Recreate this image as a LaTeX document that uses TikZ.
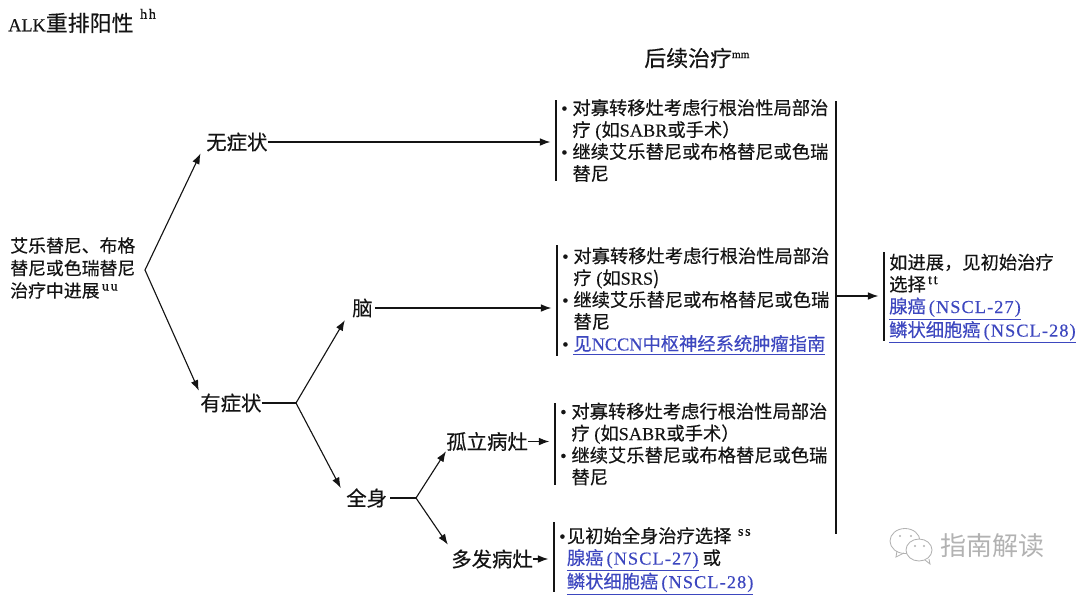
\documentclass[tikz,border=0pt]{standalone}
\usepackage{fontspec}
\setmainfont[FakeBold=0.35]{Noto Sans CJK SC}
\newfontfamily\markf{Noto Sans CJK SC}
\newfontfamily\latf[FakeBold=0.25]{Liberation Serif}
\newfontfamily\latsp[LetterSpace=6,FakeBold=0.25]{Liberation Serif}
\newfontfamily\supf[LetterSpace=12,FakeBold=0.6]{Liberation Serif}
\newfontfamily\supm[FakeBold=0.8]{Liberation Serif}
\usetikzlibrary{positioning,arrows.meta,calc}
\definecolor{colk}{rgb}{0.08, 0.08, 0.08}
\definecolor{coll}{rgb}{0.24, 0.28, 0.75}
\definecolor{colw}{rgb}{0.70, 0.70, 0.70}
\newcommand{\lat}[1]{{\latf #1}}
\newcommand{\supr}[1]{\raisebox{.7ex}{\fontsize{10}{10}\selectfont\supf\,#1}}
\newcommand{\blt}{\makebox[8pt][l]{\latf\textbullet}}
\newcommand{\ind}{\hspace*{8pt}}
\newcommand{\lnk}[1]{\textcolor{coll}{\underline{#1}}}
\newcommand{\nsa}{腺癌{\latsp\,(NSCL-27)}}
\newcommand{\nsb}{鳞状细胞癌{\latsp\,(NSCL-28)}}
\tikzset{
  body/.style={anchor=west,align=left,inner ysep=0pt,inner xsep=3.5pt,text=colk,font=\fontsize{13}{15.6}\selectfont},
  lab/.style={anchor=west,inner sep=0pt,text=colk,font=\fontsize{14.5}{17}\selectfont},
  head/.style={anchor=west,inner sep=0pt,text=colk,font=\fontsize{15.6}{18}\selectfont},
  con/.style={colk,line width=0.8pt},
  arr/.style={con,-{Latex[length=7.5pt,width=5.5pt]},shorten >=#1},
  arr/.default=4pt
}
\begin{document}
\begin{tikzpicture}[x=0.025cm,y=-0.025cm]
    \useasboundingbox (0,0) rectangle (1080,595);
    \node[head] (alk) at (8,21) {\lat{\fontsize{13}{18}\selectfont ALK}重排阳性\hspace{3pt}\raisebox{.35ex}{\supr{hh}}};
    \node[head] (then) at (644,58) {后续治疗\raisebox{.7ex}{\fontsize{8}{8}\selectfont\supm mm}};
    \node[body,inner xsep=0pt,font=\fontsize{12.7}{16}\selectfont] (prog) at (10,268) {艾乐替尼、布格\\替尼或色瑞替尼\\治疗中进展\supr{uu}};

    \coordinate (splita) at (145,270);
    \coordinate (splitb) at (296,403);
    \coordinate (splitc) at (416,498);
    \coordinate (mainbar) at (836,296);

    \node[lab] (nosym) at (206,142) {无症状};
    \node[lab] (sym) at (200,403) {有症状};
    \node[lab] (brain) at (352,308) {脑};
    \node[lab] (whole) at (346,498) {全身};
    \node[lab] (single) at (446,441.5) {孤立病灶};
    \node[lab] (multi) at (451,559) {多发病灶};

    \node[body] (tra) at (556,140.5) {\blt 对寡转移灶考虑行根治性局部治\\\ind 疗\lat{ (}如\lat{SABR}或手术）\\\blt 继续艾乐替尼或布格替尼或色瑞\\\ind 替尼};
    \node[body] (trb) at (557,301) {\blt 对寡转移灶考虑行根治性局部治\\\ind 疗\lat{ (}如\lat{SRS})\\\blt 继续艾乐替尼或布格替尼或色瑞\\\ind 替尼\\\blt \lnk{见\lat{NCCN}中枢神经系统肿瘤指南}};
    \node[body] (trc) at (555,444) {\blt 对寡转移灶考虑行根治性局部治\\\ind 疗\lat{ (}如\lat{SABR}或手术）\\\blt 继续艾乐替尼或布格替尼或色瑞\\\ind 替尼};
    \node[body] (trd) at (554,561) {\makebox[5.5pt][l]{\latf\textbullet}见初始全身治疗选择\hspace{3pt}\supr{ss}\\\hspace*{5.5pt}\lnk{\nsa} 或\\\hspace*{5.5pt}\lnk{\nsb}};
    \node[body] (next) at (884,298.5) {如进展，见初始治疗\\选择\supr{tt}\\\lnk{\nsa}\\\lnk{\nsb}};

    \draw[arr=9pt] (splita) -- (nosym.west);
    \draw[arr=2pt] (splita) -- (sym.north west);
    \draw[con] (sym.east) -- (splitb);
    \draw[arr=10pt] (splitb) -- (brain.west);
    \draw[arr=8pt] (splitb) -- (whole.west);
    \draw[con] (whole.east)+(3,0) -- (splitc);
    \draw[arr=0pt] (splitc) -- (single.south west);
    \draw[arr=4pt] (splitc) -- (multi.north west);

    \draw[arr] (nosym.east) -- (nosym.east -| tra.west);
    \draw[arr] (brain.east)+(2,0) -- (brain.east -| trb.west);
    \draw[arr] (single.east) -- (single.east -| trc.west);
    \draw[arr] (multi.east) -- (multi.east -| trd.west);

    \foreach \n/\a/\b in {tra/40.5/40.5,trb/56/55,trc/41/41,trd/39/31,next/46.5/42.5}
      \draw[con] (\n.west)+(0,-\a) -- +(0,\b);
    \draw[con] (836,101) -- (836,534);
    \draw[arr] (mainbar) -- (mainbar -| next.west);

    % watermark
    \draw[colw,line width=0.6pt] (905,541) ellipse (15 and 12.5);
    \draw[colw,line width=0.6pt] (897,551) -- (896,557) -- (904,553);
    \draw[colw,line width=0.6pt,fill=white] (919,550) ellipse (13 and 11);
    \draw[colw,line width=0.6pt,fill=white] (925,560) -- (930,564) -- (929,559);
    \foreach \x/\y in {900/536,911/536,915/546,924/546}
      \fill[colw] (\x,\y) circle (1.1);
    \node[lab,text=colw,font=\fontsize{18.5}{20}\selectfont\markf] (mark) at (940,546) {指南解读};
\end{tikzpicture}
\end{document}
